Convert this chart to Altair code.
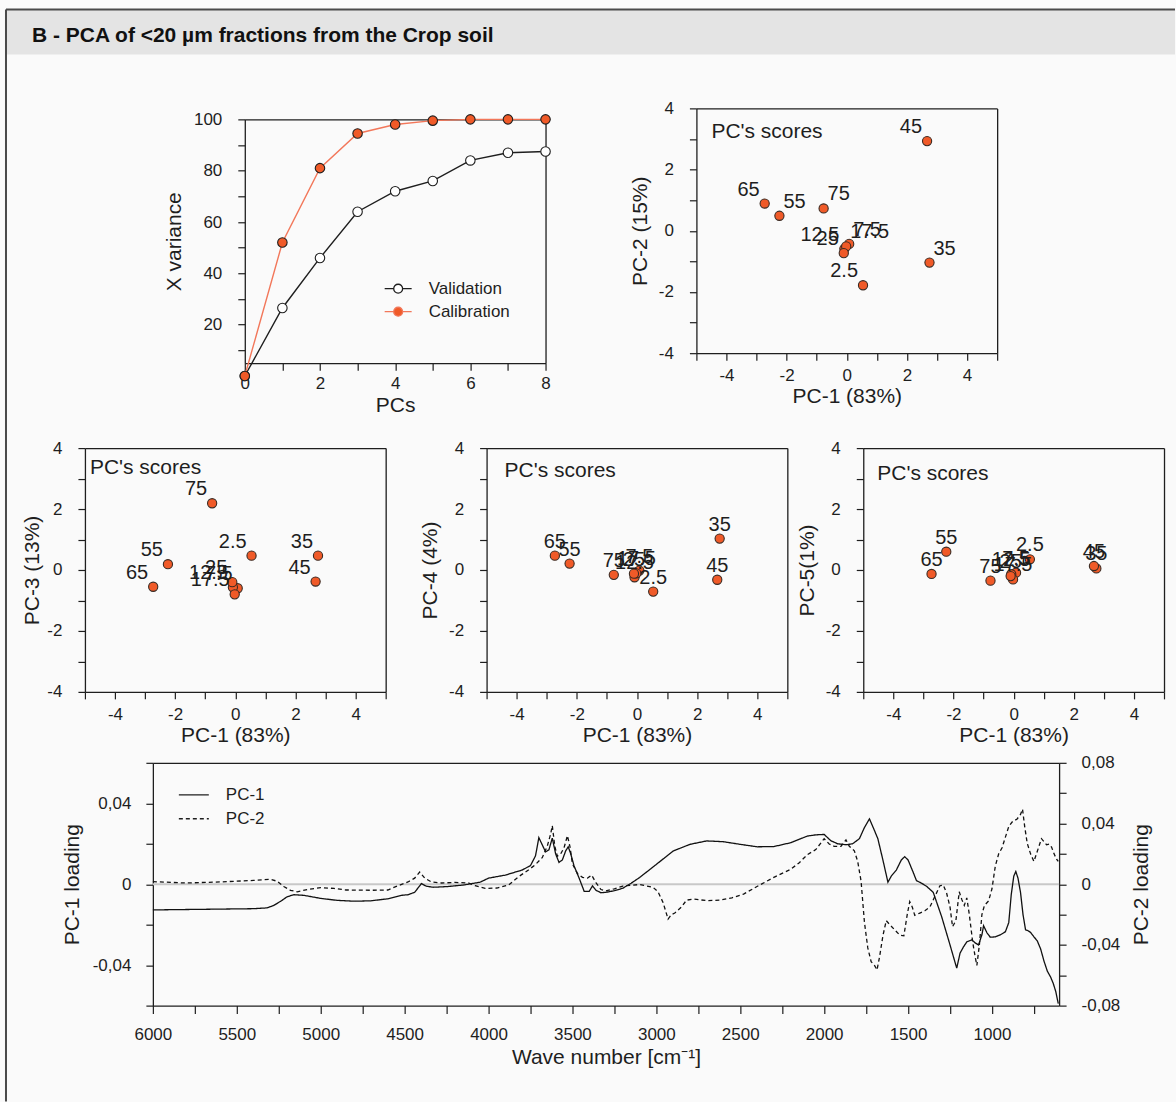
import altair as alt
import pandas as pd

FONT = "Liberation Sans"
W, H = 1176, 1102
INK = "#1e1e1e"
ORANGE = "#f05a28"
CAL_LINE = "#f2775a"

# ------------------------------------------------------------------ data
pcs = [0, 1, 2, 3, 4, 5, 6, 7, 8]
validation = [0, 26.5, 46, 64, 72, 76, 84, 87, 87.5]
calibration = [0, 52, 81, 94.5, 98, 99.5, 100, 100, 100]

samples = ["2.5", "7.5", "12.5", "17.5", "25", "35", "45", "55", "65", "75"]
pc1 = [0.54, 0.08, -0.08, -0.02, -0.10, 2.75, 2.67, -2.24, -2.73, -0.77]
pc2 = [-1.78, -0.43, -0.59, -0.51, -0.73, -1.04, 2.93, 0.49, 0.89, 0.73]
pc3 = [0.47, -0.60, -0.57, -0.80, -0.40, 0.47, -0.38, 0.19, -0.55, 2.19]
pc4 = [-0.71, -0.02, -0.24, -0.11, -0.12, 1.03, -0.32, 0.21, 0.47, -0.16]
pc5 = [0.35, -0.09, -0.14, -0.31, -0.20, 0.05, 0.13, 0.60, -0.13, -0.35]

wn_pc1 = [6000, 5800, 5600, 5400, 5320, 5280, 5240, 5200, 5160, 5100, 5000, 4900, 4800,
          4700, 4600, 4520, 4480, 4440, 4400, 4370, 4330, 4250, 4150, 4050, 4000, 3900,
          3800, 3750, 3720, 3700, 3680, 3660, 3640, 3620, 3600, 3580, 3560, 3540, 3525,
          3510, 3490, 3460, 3430, 3400, 3380, 3360, 3330, 3300, 3250, 3200, 3150, 3100,
          3000, 2900, 2800, 2700, 2600, 2500, 2400, 2300, 2200, 2100, 2050, 2000, 1960,
          1920, 1870, 1830, 1790, 1760, 1730, 1700, 1680, 1650, 1620, 1600, 1570, 1540,
          1520, 1500, 1470, 1450, 1420, 1390, 1350, 1300, 1250, 1210, 1190, 1170, 1150,
          1120, 1100, 1080, 1060, 1050, 1030, 1010, 980, 950, 920, 900, 885, 870, 858,
          845, 830, 815, 800, 785, 770, 750, 730, 710, 690, 670, 650, 635, 620, 605]
load_pc1 = [-0.0127, -0.0125, -0.0123, -0.0121, -0.0117, -0.0105, -0.0085, -0.0062, -0.0052,
            -0.0055, -0.0070, -0.0080, -0.0084, -0.0082, -0.0072, -0.0055, -0.0052, -0.0040,
            0.0003, -0.0010, -0.0015, -0.0012, -0.0004, 0.0010, 0.0030, 0.0045, 0.0070,
            0.0092, 0.0140, 0.0230, 0.0195, 0.0160, 0.0170, 0.0228, 0.0150, 0.0108, 0.0120,
            0.0165, 0.0185, 0.0150, 0.0090, 0.0030, -0.0035, -0.0035, -0.0008, -0.0030,
            -0.0042, -0.0040, -0.0032, -0.0020, 0.0005, 0.0033, 0.0098, 0.0164, 0.0197,
            0.0214, 0.0210, 0.0197, 0.0185, 0.0186, 0.0205, 0.0238, 0.0244, 0.0246, 0.0215,
            0.0200, 0.0195, 0.0200, 0.0225, 0.0280, 0.0323, 0.0265, 0.0225, 0.0120, 0.0010,
            0.0040, 0.0070, 0.0120, 0.0136, 0.0120, 0.0060, 0.0018, 0.0005, -0.0010, -0.0040,
            -0.0160, -0.0300, -0.0415, -0.0340, -0.0310, -0.0285, -0.0275, -0.0290, -0.0300,
            -0.0250, -0.0205, -0.0240, -0.0262, -0.0260, -0.0250, -0.0235, -0.0190, -0.0050,
            0.0040, 0.0063, 0.0030, -0.0040, -0.0150, -0.0225, -0.0230, -0.0238, -0.0260,
            -0.0280, -0.0320, -0.0380, -0.0430, -0.0460, -0.0490, -0.0530, -0.0590]

wn_pc2 = [6000, 5800, 5600, 5400, 5300, 5260, 5220, 5180, 5140, 5080, 5000, 4920, 4850,
          4700, 4600, 4540, 4480, 4440, 4410, 4380, 4340, 4280, 4200, 4120, 4080, 4020,
          3950, 3880, 3820, 3760, 3720, 3680, 3650, 3630, 3620, 3605, 3590, 3570, 3550,
          3530, 3515, 3500, 3470, 3440, 3410, 3385, 3360, 3330, 3300, 3250, 3200, 3100,
          3020, 2990, 2960, 2930, 2910, 2890, 2870, 2850, 2820, 2780, 2700, 2620, 2550,
          2480, 2400, 2300, 2200, 2150, 2100, 2050, 2000, 1970, 1940, 1900, 1870, 1850,
          1820, 1800, 1780, 1760, 1740, 1720, 1700, 1685, 1670, 1650, 1630, 1610, 1580,
          1550, 1525, 1505, 1490, 1475, 1460, 1430, 1400, 1370, 1340, 1310, 1290, 1270,
          1250, 1235, 1215, 1195, 1180, 1165, 1150, 1135, 1115, 1100, 1090, 1075, 1060,
          1045, 1020, 1000, 980, 960, 940, 920, 900, 880, 850, 830, 818, 805, 790, 770,
          750, 735, 720, 705, 690, 675, 660, 645, 630, 615, 605]
load_pc2 = [0.0017, 0.0008, 0.0015, 0.0025, 0.0032, 0.0020, -0.0015, -0.0040, -0.0050,
            -0.0035, -0.0022, -0.0028, -0.0038, -0.0040, -0.0038, -0.0010, 0.0015, 0.0040,
            0.0080, 0.0040, 0.0015, 0.0008, 0.0012, 0.0008, -0.0010, -0.0028, -0.0025,
            -0.0005, 0.0050, 0.0095, 0.0130, 0.0175, 0.0250, 0.0330, 0.0386, 0.0250, 0.0185,
            0.0200, 0.0240, 0.0320, 0.0250, 0.0135, 0.0070, 0.0045, 0.0040, 0.0060, 0.0010,
            -0.0035, -0.0044, -0.0030, -0.0012, -0.0002, -0.0020, -0.0050, -0.0120, -0.0230,
            -0.0200, -0.0190, -0.0170, -0.0150, -0.0105, -0.0098, -0.0108, -0.0105, -0.0090,
            -0.0065, -0.0015, 0.0045, 0.0098, 0.0140, 0.0195, 0.0228, 0.0300, 0.0265, 0.0250,
            0.0250, 0.0292, 0.0250, 0.0220, 0.0150, 0.0020, -0.0250, -0.0420, -0.0510,
            -0.0535, -0.0565, -0.0480, -0.0340, -0.0240, -0.0265, -0.0300, -0.0335, -0.0340,
            -0.0200, -0.0115, -0.0150, -0.0205, -0.0190, -0.0175, -0.0150, -0.0080, -0.0010,
            -0.0005, -0.0060, -0.0150, -0.0280, -0.0240, -0.0050, -0.0100, -0.0140, -0.0090,
            -0.0200, -0.0380, -0.0480, -0.0535, -0.0400, -0.0200, -0.0140, -0.0110, -0.0030,
            0.0120, 0.0200, 0.0240, 0.0310, 0.0380, 0.0410, 0.0430, 0.0460, 0.0495, 0.0380,
            0.0270, 0.0200, 0.0150, 0.0200, 0.0250, 0.0300, 0.0280, 0.0260, 0.0265, 0.0245,
            0.0200, 0.0165, 0.0150]

# ------------------------------------------------------------------ layout / style
BOX = {  # left, right, top, bottom of each plot area (pixels)
    "var": (245, 546, 119, 363),
    "PC2": (697, 998, 108, 353),
    "PC3": (85, 386, 448, 692),
    "PC4": (487, 788, 448, 692),
    "PC5": (864, 1165, 448, 692),
    "load": (153, 1060, 763, 1006),
}
LABEL_SIDE = {
    "PC2": {"2.5": "left", "7.5": "right", "12.5": "left", "17.5": "right", "25": "left",
            "35": "right", "45": "left", "55": "right", "65": "left", "75": "right"},
    "PC3": {s: "left" for s in samples},
    "PC4": {s: "center" for s in samples},
    "PC5": {s: "center" for s in samples},
}
ANNOT = {"PC2": (712, 138), "PC3": (90, 474), "PC4": (505, 477), "PC5": (878, 480)}
YTITLE_PAD = {"PC2": 8, "PC3": 4, "PC4": 8, "PC5": 8}
EVEN = "datum.value % 2 == 0 ? toString(datum.value) : ''"


def axis(orient, box, **kw):
    x0, x1, y0, y1 = box
    off = {"left": -x0, "right": x1 - W, "top": -y0, "bottom": y1 - H}[orient]
    return alt.Axis(orient=orient, offset=off, **kw)


def frame(orient, box):
    return axis(orient, box, labels=False, ticks=False, title=None, domain=True)


one = pd.DataFrame({"t": ["x"]})
layers = []

# ------------------------------------------------------------------ header
layers.append(alt.Chart(one).mark_rect(color="#e4e4e4").encode(
    x=alt.value(6), x2=alt.value(1176), y=alt.value(9), y2=alt.value(54)))
layers.append(alt.Chart(one).mark_rule(color="#4a4a4a", strokeWidth=2).encode(
    x=alt.value(6), x2=alt.value(1176), y=alt.value(9)))
layers.append(alt.Chart(one).mark_rule(color="#4a4a4a", strokeWidth=2).encode(
    x=alt.value(6), y=alt.value(9), y2=alt.value(1102)))
layers.append(alt.Chart(pd.DataFrame({"t": ["B - PCA of <20 µm fractions from the Crop soil"]}))
              .mark_text(align="left", baseline="alphabetic", fontSize=21, fontWeight="bold", color="#111")
              .encode(x=alt.value(32), y=alt.value(42), text="t:N"))

# ------------------------------------------------------------------ variance panel
vb = BOX["var"]
var_df = pd.DataFrame({
    "pc": pcs + pcs,
    "xvar": validation + calibration,
    "series": ["Validation"] * len(pcs) + ["Calibration"] * len(pcs),
})
vxs = alt.Scale(domain=[0, 8], range=[vb[0], vb[1]], nice=False, zero=False)
vys = alt.Scale(domain=[5, 100], range=[vb[3], vb[2]], nice=False, zero=False)
SYM = ("M-1,0L-0.33,0M0.33,0A0.33,0.33,0,1,1,-0.33,0A0.33,0.33,0,1,1,0.33,0"
       "M0.33,0L1,0")
var_leg = alt.Legend(title=None, orient="none", legendX=384, legendY=274, direction="vertical",
                     symbolType=SYM, symbolSize=729, symbolStrokeWidth=1.3, labelFontSize=17,
                     labelOffset=16, rowPadding=0, padding=0, labelColor=INK)
dom = ["Validation", "Calibration"]
layers.append(alt.Chart(var_df).mark_line(strokeWidth=1.4).encode(
    x=alt.X("pc:Q", scale=vxs, axis=axis("bottom", vb, values=pcs, labelExpr=EVEN, title="PCs",
                                        labelPadding=5, titlePadding=3)),
    y=alt.Y("xvar:Q", scale=vys, axis=axis("left", vb, values=list(range(10, 101, 10)),
                                          labelExpr="datum.value % 20 == 0 ? toString(datum.value) : ''",
                                          title="X variance", labelPadding=16, titlePadding=9)),
    stroke=alt.Stroke("series:N", scale=alt.Scale(domain=dom, range=[INK, CAL_LINE]), legend=var_leg),
))
layers.append(alt.Chart(var_df).mark_point(shape="circle", filled=True, size=90, opacity=1,
                                           stroke=INK, strokeWidth=1.1).encode(
    x=alt.X("pc:Q", scale=vxs, axis=frame("top", vb)),
    y=alt.Y("xvar:Q", scale=vys, axis=frame("right", vb)),
    fill=alt.Fill("series:N", scale=alt.Scale(domain=dom, range=["#ffffff", ORANGE]), legend=var_leg),
))

# ------------------------------------------------------------------ score panels
scores = pd.DataFrame({"sample": samples, "PC1": pc1, "PC2": pc2, "PC3": pc3, "PC4": pc4, "PC5": pc5})
YTITLES = {"PC2": "PC-2 (15%)", "PC3": "PC-3 (13%)", "PC4": "PC-4 (4%)", "PC5": "PC-5(1%)"}
XLAB_PAD = {"PC2": 7, "PC3": 8, "PC4": 8, "PC5": 8}

for col in ["PC2", "PC3", "PC4", "PC5"]:
    b = BOX[col]
    xs = alt.Scale(domain=[-5, 5], range=[b[0], b[1]], nice=False, zero=False)
    ys = alt.Scale(domain=[-4, 4], range=[b[3], b[2]], nice=False, zero=False)
    df = scores.assign(side=[LABEL_SIDE[col][s] for s in samples])
    layers.append(alt.Chart(df).mark_point(shape="circle", filled=True, size=85, opacity=1,
                                           fill=ORANGE, stroke="#3a2a22", strokeWidth=1.1).encode(
        x=alt.X("PC1:Q", scale=xs, axis=axis("bottom", b, values=list(range(-5, 6)), labelExpr=EVEN,
                                            title="PC-1 (83%)", labelPadding=XLAB_PAD[col],
                                            titlePadding=2)),
        y=alt.Y(f"{col}:Q", scale=ys, axis=axis("left", b, values=list(range(-4, 5)), labelExpr=EVEN,
                                              title=YTITLES[col], labelPadding=16,
                                              titlePadding=YTITLE_PAD[col])),
    ))
    first = True
    for side, align, dx in [("left", "right", -5), ("right", "left", 4), ("center", "center", 0)]:
        if side not in set(df["side"]):
            continue
        xa = frame("top", b) if first else None
        ya = frame("right", b) if first else None
        first = False
        layers.append(alt.Chart(df).transform_filter(alt.datum.side == side).mark_text(
            align=align, baseline="alphabetic", dx=dx, dy=-8, fontSize=20, color=INK).encode(
            x=alt.X("PC1:Q", scale=xs, axis=xa),
            y=alt.Y(f"{col}:Q", scale=ys, axis=ya),
            text="sample:N",
        ))
    ax_, ay_ = ANNOT[col]
    layers.append(alt.Chart(pd.DataFrame({"t": ["PC's scores"]})).mark_text(
        align="left", baseline="alphabetic", fontSize=21, color=INK).encode(
        x=alt.value(ax_), y=alt.value(ay_), text="t:N"))

# ------------------------------------------------------------------ loading panel
lb = BOX["load"]
lxs = alt.Scale(domain=[600, 6000], range=[lb[1], lb[0]], nice=False, zero=False)
lys1 = alt.Scale(domain=[-0.06, 0.06], range=[lb[3], lb[2]], nice=False, zero=False)
lys2 = alt.Scale(domain=[-0.08, 0.08], range=[lb[3], lb[2]], nice=False, zero=False)
dash_leg = alt.Legend(title=None, orient="none", legendX=178, legendY=779, direction="vertical",
                      symbolType="stroke", symbolSize=900, symbolStrokeWidth=1.3,
                      symbolStrokeColor=INK, labelFontSize=17, labelOffset=16, rowPadding=0,
                      padding=0, labelColor=INK)
dash_scale = alt.Scale(domain=["PC-1", "PC-2"], range=[[1, 0], [4, 3]])

zero_df = pd.DataFrame({"wn": [6000, 600], "z": [0, 0]})
layers.append(alt.Chart(zero_df).mark_line(color="#c8c8c8", strokeWidth=2).encode(
    x=alt.X("wn:Q", scale=lxs, axis=frame("top", lb)),
    y=alt.Y("z:Q", scale=lys1, axis=None),
))
l2 = pd.DataFrame({"wn": wn_pc2, "v": load_pc2, "pc": "PC-2"})
layers.append(alt.Chart(l2).mark_line(color="#111", strokeWidth=1.3).encode(
    x=alt.X("wn:Q", scale=lxs, axis=None),
    y=alt.Y("v:Q", scale=lys2, axis=axis(
        "right", lb, values=[-0.08, -0.06, -0.04, -0.02, 0, 0.02, 0.04, 0.06, 0.08],
        labelExpr="datum.value == 0 ? '0' : (round(datum.value * 100) % 4 == 0 ? replace(toString(datum.value), '.', ',') : '')",
        title="PC-2 loading", titleAngle=270, titleBaseline="top", labelPadding=15, titlePadding=11)),
    strokeDash=alt.StrokeDash("pc:N", scale=dash_scale, legend=dash_leg),
))
l1 = pd.DataFrame({"wn": wn_pc1, "v": load_pc1, "pc": "PC-1"})
layers.append(alt.Chart(l1).mark_line(color="#111", strokeWidth=1.3).encode(
    x=alt.X("wn:Q", scale=lxs, axis=axis(
        "bottom", lb, values=list(range(750, 6001, 250)),
        labelExpr="datum.value % 500 == 0 ? toString(datum.value) : ''",
        title="Wave number [cm⁻¹]", tickSize=8, labelPadding=13, titlePadding=4)),
    y=alt.Y("v:Q", scale=lys1, axis=axis(
        "left", lb, values=[-0.06, -0.04, -0.02, 0, 0.02, 0.04, 0.06],
        labelExpr="datum.value == 0 ? '0' : (abs(round(datum.value * 100)) == 4 ? replace(toString(datum.value), '.', ',') : '')",
        title="PC-1 loading", labelPadding=15, titlePadding=10)),
    strokeDash=alt.StrokeDash("pc:N", scale=dash_scale, legend=dash_leg),
))

chart = (
    alt.layer(*layers)
    .resolve_scale(x="independent", y="independent")
    .properties(width=W, height=H, padding=0)
    .configure(font=FONT, background="#fafafa")
    .configure_view(stroke=None)
    .configure_axis(labelFontSize=17, titleFontSize=21, titleFontWeight="normal", labelFont=FONT,
                    titleFont=FONT, labelColor=INK, titleColor=INK, domainColor=INK, tickColor=INK,
                    tickSize=7, domainWidth=1.3, tickWidth=1.2, grid=False, labelFlush=False,
                    labelOverlap=False)
    .configure_legend(labelFont=FONT)
)

chart.save("out.html", embed_options={"renderer": "svg", "actions": False})
